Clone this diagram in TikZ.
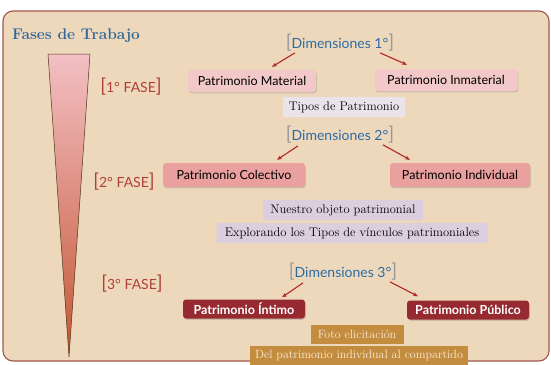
\documentclass[tikz,border=0pt]{standalone}
\usepackage{fontspec}
\newfontfamily\gillfont{Lato}
\usetikzlibrary{positioning,arrows.meta,calc,shadows}
\definecolor{panelbg}{RGB}{238,216,188}
\definecolor{panelline}{RGB}{160,88,76}
\definecolor{titleblue}{RGB}{52,104,152}
\definecolor{dimblue}{RGB}{44,108,166}
\definecolor{phasered}{RGB}{176,64,54}
\definecolor{arrowred}{RGB}{176,40,36}
\definecolor{pinklight}{RGB}{243,200,200}
\definecolor{pinkmid}{RGB}{233,160,158}
\definecolor{lilaclight}{RGB}{234,228,234}
\definecolor{lilac}{RGB}{219,206,223}
\definecolor{wine}{RGB}{150,42,48}
\definecolor{ochre}{RGB}{196,140,62}
\definecolor{creamtext}{RGB}{250,238,220}
\definecolor{wedgetop}{RGB}{243,192,196}
\definecolor{wedgemid}{RGB}{218,140,136}
\definecolor{wedgebot}{RGB}{196,86,52}
\newcommand{\Brk}[1]{{\fontsize{19}{19}\selectfont #1}}
\newcommand{\Dim}[1]{{\color{gray!80}\Brk{[}}Dimensiones #1°{\color{gray!80}\Brk{]}}}
\newcommand{\Fase}[1]{\Brk{[}#1° FASE\Brk{]}}

\begin{document}
\begin{tikzpicture}[x=1pt,y=-1pt,
  box/.style={rounded corners=3pt,align=center,inner sep=0pt},
  pat/.style={box,fill=pinklight,minimum width=128pt,minimum height=22pt,
    font=\gillfont\fontsize{12.5}{14}\selectfont,
    drop shadow={shadow xshift=0.8pt,shadow yshift=-1.4pt,opacity=0.3}},
  patdark/.style={pat,fill=pinkmid,minimum height=24pt},
  patwine/.style={pat,fill=wine,text=white,minimum height=19pt,
    font=\gillfont\bfseries\fontsize{12.5}{14}\selectfont},
  tag/.style={box,rounded corners=1pt,minimum height=20pt,
    font=\fontsize{12.5}{14}\selectfont},
  tipo/.style={tag,fill=lilaclight},
  obj/.style={tag,fill=lilac},
  foto/.style={tag,rounded corners=0pt,fill=ochre,text=creamtext,minimum height=19pt,
    font=\fontsize{12}{14}\selectfont},
  dim/.style={text=dimblue,inner sep=1pt,font=\gillfont\fontsize{14}{16}\selectfont},
  fase/.style={text=phasered,inner sep=1pt,font=\gillfont\fontsize{14}{16}\selectfont},
  ar/.style={-{Stealth[length=5pt,width=4pt]},arrowred,line width=1.1pt},
]
  \useasboundingbox (0,0) rectangle (551,364);
  % panel
  \draw[panelline,line width=1.1pt,fill=panelbg,rounded corners=10pt] (3,11) rectangle (549,361);
  \node[text=titleblue,font=\bfseries\fontsize{15.5}{17}\selectfont] (T) at (76,36) {Fases de Trabajo};
  % phase wedge
  \shade[top color=wedgetop,middle color=wedgemid,bottom color=wedgebot,draw=black!60!brown,line width=0.5pt]
    (48,54) -- (90,54) -- (69,357) -- cycle;
  \node[fase] (F1) at (131,87) {\Fase{1}};
  \node[fase] (F2) at (124,182) {\Fase{2}};
  \node[fase] (F3) at (132,284) {\Fase{3}};
  % first phase
  \node[dim] (D1) at (340,43) {\Dim{1}};
  \node[pat] (PM) at (252,81) {Patrimonio Material};
  \node[pat,minimum width=143pt] (PI) at (446,80) {Patrimonio Inmaterial};
  \node[tipo,minimum width=122pt] (TP) at (344,107) {Tipos de Patrimonio};
  % second phase
  \node[dim] (D2) at (340,135) {\Dim{2}};
  \node[patdark,minimum width=142pt] (PC) at (234,175) {Patrimonio Colectivo};
  \node[patdark,minimum width=140pt] (PIn) at (460,175) {Patrimonio Individual};
  \node[obj,minimum width=160pt] (NO) at (343,210) {Nuestro objeto patrimonial};
  \node[obj,minimum width=271pt] (EX) at (352,233) {Explorando los Tipos de vínculos patrimoniales};
  % third phase
  \node[dim] (D3) at (343,272) {\Dim{3}};
  \node[patwine,minimum width=122pt] (PInt) at (244,309) {Patrimonio Íntimo};
  \node[patwine,minimum width=122pt] (PPu) at (468,310) {Patrimonio Público};
  \node[foto,minimum width=93pt] (FE) at (357,334) {Foto elicitación};
  \node[foto,minimum width=218pt] (DP) at (359,355) {Del patrimonio individual al compartido};
  % arrows
  \draw[ar] ($(D1.south)+(-45,0)$) -- ($(PM.north)+(20,-3)$);
  \draw[ar] ($(D1.south)+(40,0)$) -- ($(PI.north)+(-39,-4)$);
  \draw[ar] ($(D2.south)+(-42,1)$) -- ($(PC.north)+(43,-3)$);
  \draw[ar] ($(D2.south)+(43,0)$) -- ($(PIn.north)+(-50,-3)$);
  \draw[ar] ($(D3.south)+(-40,1)$) -- ($(PInt.north)+(38,-2)$);
  \draw[ar] ($(D3.south)+(47,0)$) -- ($(PPu.north)+(-50,-4)$);
\end{tikzpicture}
\end{document}
